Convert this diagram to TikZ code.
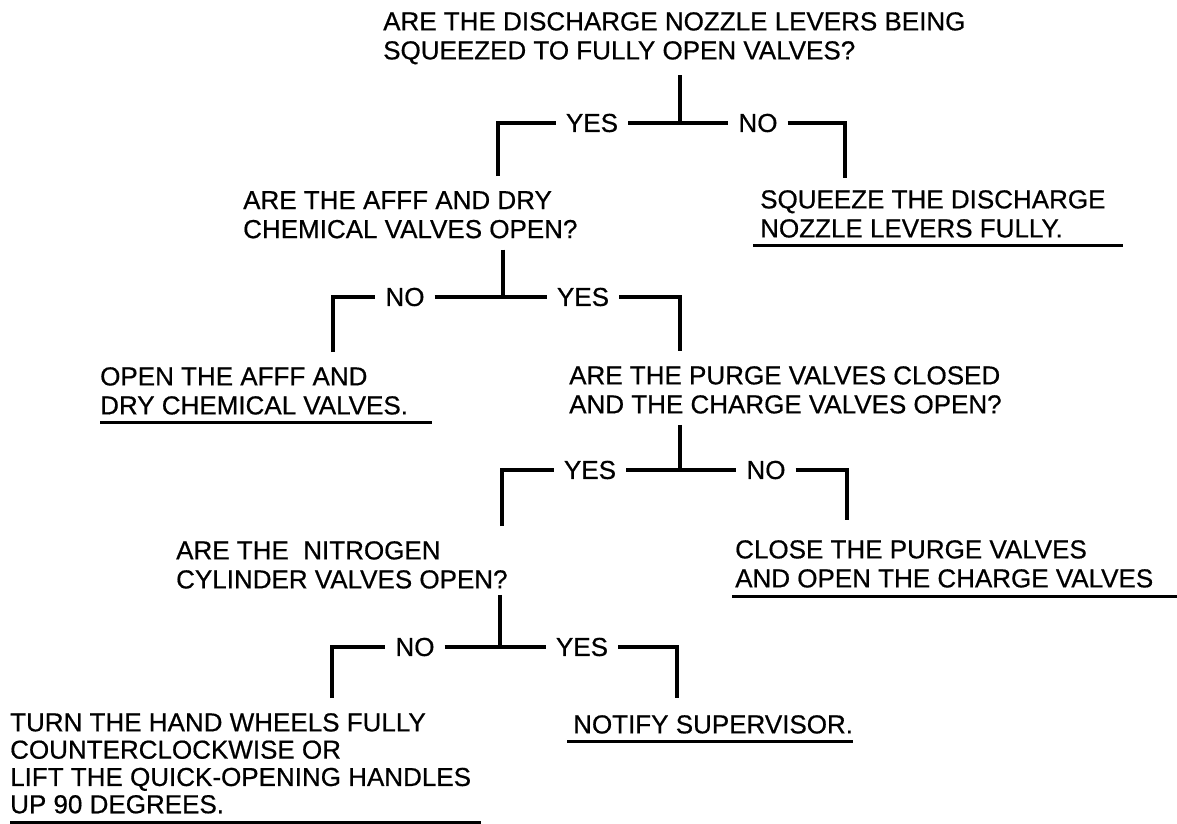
\documentclass[tikz,border=0pt]{standalone}
\usepackage{fontspec}
\setmainfont{Liberation Sans}[FakeBold=0.6]
\usetikzlibrary{calc}

\tikzset{
  qtext/.style={anchor=north west, align=left, inner sep=0pt,
    font=\fontsize{26}{29}\selectfont},
  answer/.style={qtext},
  lbl/.style={inner xsep=10pt, inner ysep=0pt, font=\fontsize{26}{29}\selectfont},
  link/.style={line width=3.2pt},
  uline/.style={line width=2.8pt}
}

\begin{document}
\begin{tikzpicture}[x=1pt, y=-1pt]
\useasboundingbox (0,0) rectangle (1177,823);

% questions and actions
\node[qtext] (q1) at (383,12) {ARE THE DISCHARGE NOZZLE LEVERS BEING\\SQUEEZED TO FULLY OPEN VALVES?};
\node[qtext] (q2) at (243,191) {ARE THE AFFF AND DRY\\CHEMICAL VALVES OPEN?};
\node[answer] (a1) at (760,190) {SQUEEZE THE DISCHARGE\\NOZZLE LEVERS FULLY.};
\node[answer] (a2) at (100,367) {OPEN THE AFFF AND\\DRY CHEMICAL VALVES.};
\node[qtext] (q3) at (569,366) {ARE THE PURGE VALVES CLOSED\\AND THE CHARGE VALVES OPEN?};
\node[qtext] (q4) at (176,541) {ARE THE\ \ NITROGEN\\CYLINDER VALVES OPEN?};
\node[answer] (a3) at (735,540) {CLOSE THE PURGE VALVES\\AND OPEN THE CHARGE VALVES};
\node[answer, font=\fontsize{26}{27.3}\selectfont] (a4) at (10,713) {TURN THE HAND WHEELS FULLY\\COUNTERCLOCKWISE OR\\LIFT THE QUICK-OPENING HANDLES\\UP 90 DEGREES.};
\node[answer] (a5) at (573,715) {NOTIFY SUPERVISOR.};

% underlines
\draw[uline] ($(a1.south west)+(-7,8)$) -- ($(a1.south west)+(363,8)$);
\draw[uline] ($(a2.south west)+(0,8)$) -- ($(a2.south west)+(332,8)$);
\draw[uline] ($(a3.south west)+(-3,9)$) -- ($(a3.south west)+(442,9)$);
\draw[uline] ($(a4.south west)+(0,9)$) -- ($(a4.south east)+(10,9)$);
\draw[uline] ($(a5.south west)+(-6,8)$) -- ($(a5.south east)+(0,8)$);

% branch 1
\coordinate (j1) at (680,123);
\coordinate (c1y) at (498,123);
\coordinate (c1n) at (845,123);
\node[lbl] (yes1) at (592,123) {YES};
\node[lbl] (no1) at (758,123) {NO};
\draw[link] ($(q1.south -| j1)+(0,11)$) -- (j1);
\draw[link] ($(c1y |- q2.north)+(0,-15)$) -- (c1y) -- (yes1);
\draw[link] (yes1) -- (no1);
\draw[link] (no1) -- (c1n) -- ($(c1n |- a1.north)+(0,-12)$);

% branch 2
\coordinate (j2) at (503,297);
\coordinate (c2n) at (333,297);
\coordinate (c2y) at (680,297);
\node[lbl] (no2) at (405,297) {NO};
\node[lbl] (yes2) at (583,297) {YES};
\draw[link] ($(q2.south -| j2)+(0,11)$) -- (j2);
\draw[link] ($(c2n |- a2.north)+(0,-15)$) -- (c2n) -- (no2);
\draw[link] (no2) -- (yes2);
\draw[link] (yes2) -- (c2y) -- ($(c2y |- q3.north)+(0,-15)$);

% branch 3
\coordinate (j3) at (680,470);
\coordinate (c3y) at (502,470);
\coordinate (c3n) at (847,470);
\node[lbl] (yes3) at (590,470) {YES};
\node[lbl] (no3) at (766,470) {NO};
\draw[link] ($(q3.south -| j3)+(0,11)$) -- (j3);
\draw[link] ($(c3y |- q4.north)+(0,-15)$) -- (c3y) -- (yes3);
\draw[link] (yes3) -- (no3);
\draw[link] (no3) -- (c3n) -- ($(c3n |- a3.north)+(0,-20)$);

% branch 4
\coordinate (j4) at (500,647);
\coordinate (c4n) at (332,647);
\coordinate (c4y) at (677,647);
\node[lbl] (no4) at (415,647) {NO};
\node[lbl] (yes4) at (582,647) {YES};
\draw[link] ($(q4.south -| j4)+(0,6)$) -- (j4);
\draw[link] ($(c4n |- a4.north)+(0,-15)$) -- (c4n) -- (no4);
\draw[link] (no4) -- (yes4);
\draw[link] (yes4) -- (c4y) -- ($(c4y |- a5.north)+(0,-17)$);
\end{tikzpicture}
\end{document}
